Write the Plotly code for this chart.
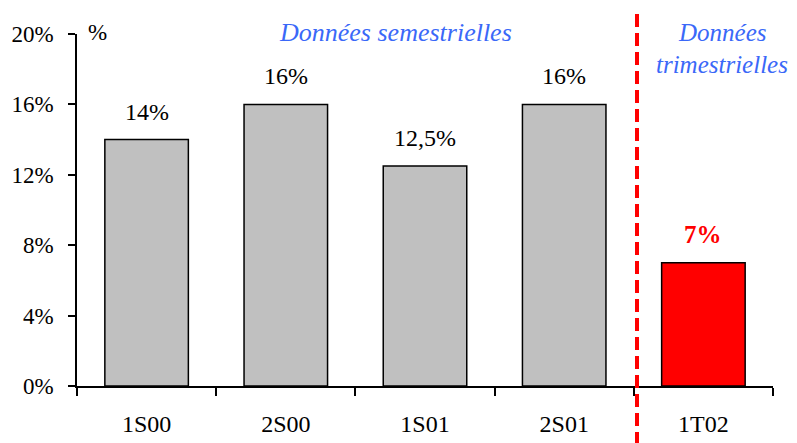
import plotly.graph_objects as go

categories = ["1S00", "2S00", "1S01", "2S01", "1T02"]
values = [14, 16, 12.5, 16, 7]
labels = ["14%", "16%", "12,5%", "16%", "7%"]
colors = ["#C0C0C0", "#C0C0C0", "#C0C0C0", "#C0C0C0", "#FF0000"]
tick_vals = [0, 4, 8, 12, 16, 20]
tick_text = ["0%", "4%", "8%", "12%", "16%", "20%"]

FONT = "Liberation Serif"
BLUE = "#3A68F8"

fig = go.Figure()
fig.add_trace(go.Bar(
    x=categories, y=values, width=0.6,
    marker=dict(color=colors, line=dict(color="black", width=1.5)),
    showlegend=False, hoverinfo="skip",
))

for c, v, t in zip(categories, values, labels):
    red = c == "1T02"
    fig.add_annotation(
        x=c, y=v, text=("<b>%s</b>" % t) if red else t, showarrow=False,
        yanchor="middle", yshift=28,
        font=dict(family=FONT, size=25 if red else 24, color="#FF0000" if red else "black"),
    )

fig.add_annotation(xref="paper", yref="paper", x=(86 - 77) / 696, y=(386 - 33) / 352, text="%",
                   showarrow=False, xanchor="left", yanchor="middle",
                   font=dict(family=FONT, size=23, color="black"))
fig.add_annotation(xref="paper", yref="paper", x=(395 - 77) / 696, y=(386 - 33) / 352,
                   text="<i>Données semestrielles</i>", showarrow=False,
                   xanchor="center", yanchor="middle",
                   font=dict(family=FONT, size=26, color=BLUE))
fig.add_annotation(xref="paper", yref="paper", x=(722 - 77) / 696, y=(386 - 32) / 352,
                   text="<i>Données</i>", showarrow=False,
                   xanchor="center", yanchor="middle",
                   font=dict(family=FONT, size=25, color=BLUE))
fig.add_annotation(xref="paper", yref="paper", x=(722 - 77) / 696, y=(386 - 65) / 352,
                   text="<i>trimestrielles</i>", showarrow=False,
                   xanchor="center", yanchor="middle",
                   font=dict(family=FONT, size=25, color=BLUE))

fig.add_shape(type="line", xref="paper", yref="paper",
              x0=(637 - 77) / 696, x1=(637 - 77) / 696,
              y0=(386 - 445) / 352, y1=(386 - 10) / 352,
              line=dict(color="#FF0000", width=4, dash="13px,6px"))

# page body has an 8px offset; figure is sized/margined to land on the reference geometry
fig.update_layout(
    width=789, height=435,
    margin=dict(l=69, r=24, t=26, b=57, autoexpand=False),
    paper_bgcolor="white", plot_bgcolor="white",
    bargap=0.4,
    font=dict(family=FONT, size=23, color="black"),
)
fig.update_xaxes(
    showline=True, linecolor="black", linewidth=1.5,
    ticks="outside", ticklen=8, tickwidth=1.5, tickcolor="black",
    tickson="boundaries", showgrid=False, range=[-0.5, 4.5],
    ticklabelstandoff=15, automargin=False,
    tickfont=dict(family=FONT, size=24, color="black"),
)
fig.update_yaxes(
    range=[0, 20], tickvals=tick_vals, ticktext=tick_text,
    showline=True, linecolor="black", linewidth=1.5,
    ticks="outside", ticklen=7, tickwidth=1.5, tickcolor="black",
    showgrid=False, zeroline=False, ticklabelstandoff=10, automargin=False,
    tickfont=dict(family=FONT, size=23, color="black"),
)

fig.write_html("out.html")
